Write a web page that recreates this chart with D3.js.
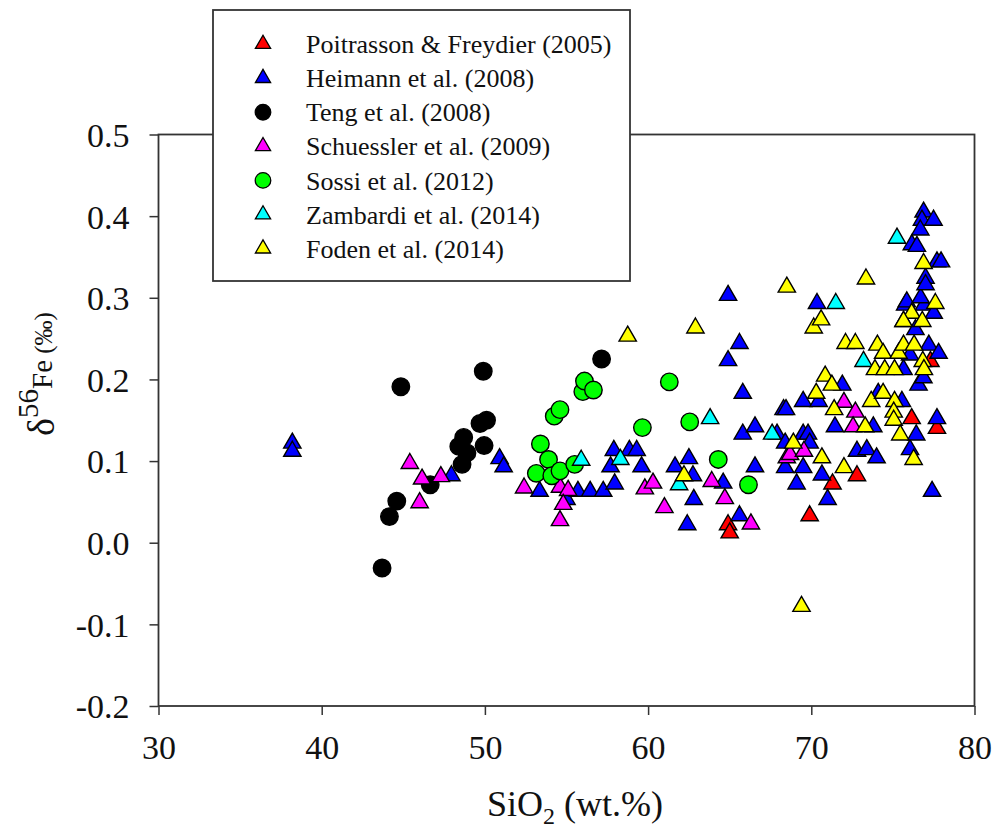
<!DOCTYPE html>
<html>
<head>
<meta charset="utf-8">
<script src="https://cdn.jsdelivr.net/npm/d3@7"></script>
<style>
  html, body { margin: 0; padding: 0; background: #fff; }
  svg { display: block; font-family: "Liberation Serif", "Times New Roman", serif; }
</style>
</head>
<body>
<svg id="chart" width="995" height="839"></svg>
<script>
// δ56Fe vs SiO2 compilation, one array of [SiO2 wt.%, δ56Fe ‰] pairs per study
const poitrasson = [[64.9,0.022],[65.0,0.012],[69.9,0.033],[71.3,0.072],[72.8,0.082],[76.15,0.152],[77.7,0.140],[77.3,0.222]];
const heimann = [
  [38.2,0.122],[38.2,0.112],[47.95,0.082],[50.9,0.103],[51.15,0.093],
  [53.35,0.063],[55.0,0.053],[55.7,0.063],[56.45,0.063],[57.25,0.063],[57.95,0.072],[57.7,0.093],[57.9,0.113],[58.85,0.113],[59.3,0.113],[59.6,0.093],
  [61.65,0.093],[62.5,0.103],[62.75,0.082],[62.8,0.053],[62.4,0.022],[64.6,0.073],
  [64.9,0.303],[64.9,0.223],[65.6,0.244],[65.8,0.183],[65.8,0.133],[66.55,0.142],[66.55,0.093],[65.6,0.033],
  [67.9,0.133],[68.3,0.163],[68.45,0.163],[68.4,0.122],[68.4,0.092],[69.5,0.173],[69.5,0.133],[69.8,0.133],[69.9,0.122],[69.5,0.092],[69.1,0.072],
  [70.35,0.293],[70.45,0.173],[70.65,0.083],[71.0,0.053],[71.45,0.142],[71.9,0.193],[72.8,0.112],[73.4,0.114],[73.8,0.142],[74.0,0.104],[74.1,0.183],
  [75.55,0.173],[75.65,0.212],[75.65,0.271],[75.75,0.291],[75.85,0.295],[76.05,0.230],[76.05,0.114],[76.43,0.132],[76.38,0.261],[76.57,0.193],[76.87,0.202],
  [76.9,0.291],[76.7,0.300],[77.0,0.324],[77.0,0.316],[77.2,0.242],[77.5,0.281],[77.8,0.232],[77.7,0.152],[77.4,0.063],
  [76.88,0.405],[76.78,0.395],[77.49,0.395],[76.68,0.383],[76.16,0.365],[76.47,0.363],[77.7,0.344],[77.95,0.344]
];
const teng = [[43.7,-0.031],[44.15,0.032],[44.6,0.051],[44.85,0.191],[46.65,0.071],[48.6,0.096],[48.9,0.110],[48.4,0.118],[48.7,0.129],[49.7,0.146],[50.1,0.150],[49.9,0.210],[49.95,0.119],[57.15,0.225]];
const schuessler = [[45.4,0.097],[46.0,0.049],[46.15,0.078],[47.3,0.081],[52.4,0.067],[54.6,0.068],[55.1,0.064],[54.8,0.047],[54.6,0.027],[59.8,0.066],[60.3,0.073],[61.0,0.043],[63.9,0.075],[64.7,0.054],[66.3,0.023],[68.5,0.104],[68.7,0.108],[69.55,0.112],[72.0,0.172],[72.7,0.160],[72.56,0.142]];
const sossi = [[53.15,0.085],[53.4,0.121],[53.9,0.102],[54.1,0.082],[54.6,0.088],[55.5,0.096],[54.25,0.155],[54.6,0.163],[56.0,0.185],[56.1,0.198],[56.65,0.187],[59.65,0.141],[61.3,0.197],[62.55,0.148],[64.3,0.102],[66.15,0.071]];
const zambardi = [[55.9,0.101],[58.3,0.102],[61.9,0.071],[63.8,0.152],[67.6,0.133],[71.5,0.293],[73.2,0.222],[75.25,0.373]];
const foden = [
  [58.75,0.253],[62.9,0.263],[62.2,0.082],[68.5,0.313],[68.9,0.122],[69.4,-0.078],[70.15,0.263],[70.6,0.273],[70.3,0.183],[70.85,0.204],[71.26,0.193],[71.4,0.163],
  [70.65,0.104],[72.0,0.092],[73.3,0.142],[73.35,0.323],[72.1,0.244],[72.7,0.244],[73.67,0.173],[74.05,0.242],[73.9,0.212],[74.4,0.232],[74.5,0.212],[74.4,0.183],
  [75.1,0.212],[75.35,0.232],[75.65,0.242],[75.1,0.173],[75.05,0.160],[75.05,0.150],[75.45,0.132],[76.15,0.281],[75.65,0.271],[76.8,0.271],[76.3,0.242],
  [76.88,0.342],[76.83,0.222],[76.9,0.212],[77.6,0.293],[76.27,0.102]
];

// Legend entries, drawn in this order
const seriesNames = ["Poitrasson & Freydier (2005)","Heimann et al. (2008)","Teng et al. (2008)","Schuessler et al. (2009)","Sossi et al. (2012)","Zambardi et al. (2014)","Foden et al. (2014)"];
const seriesData = [poitrasson, heimann, teng, schuessler, sossi, zambardi, foden];
const seriesColors = ["#ff0000","#0000ff","#000000","#ff00ff","#00ff00","#00ffff","#ffff00"];
const seriesShapes = ["triangle","triangle","circle","triangle","circle","triangle","triangle"];

const xTicks = [30,40,50,60,70,80];
const yTicks = [-0.2,-0.1,0.0,0.1,0.2,0.3,0.4,0.5];

const svg = d3.select("#chart");
const plotLeft = 158.5, plotRight = 974.5, plotTop = 134.5, plotBottom = 706;

const x = d3.scaleLinear().domain([30,80]).range([plotLeft,plotRight]);
const y = d3.scaleLinear().domain([-0.2,0.5]).range([plotBottom,plotTop]);

const symbolFor = (shape, big) => d3.symbol()
  .type(shape === "circle" ? d3.symbolCircle : d3.symbolTriangle)
  .size(shape === "circle" ? (big ? 240 : 190) : (big ? 130 : 100))();

// plot frame
svg.append("rect")
  .attr("x", plotLeft).attr("y", plotTop)
  .attr("width", plotRight-plotLeft).attr("height", plotBottom-plotTop)
  .attr("fill", "none").attr("stroke", "#333").attr("stroke-width", 1.8);

// axes (plain hyphen for negative values)
const tickFont = 34;
const xAxis = svg.append("g").attr("transform", `translate(0,${plotBottom})`)
  .call(d3.axisBottom(x).tickValues(xTicks).tickFormat(d => String(d)).tickSize(9).tickSizeOuter(0));
const yAxis = svg.append("g").attr("transform", `translate(${plotLeft},0)`)
  .call(d3.axisLeft(y).tickValues(yTicks).tickFormat(d => d.toFixed(1)).tickSize(9).tickSizeOuter(0));
[xAxis, yAxis].forEach(g => {
  g.select(".domain").remove();
  g.selectAll("line").attr("stroke", "#333").attr("stroke-width", 1.5);
  g.selectAll("text").attr("fill", "#111").style("font-size", tickFont + "px")
    .style("font-family", '"Liberation Serif", "Times New Roman", serif');
});
xAxis.selectAll("text").attr("dy", 0).attr("y", 53);
yAxis.selectAll("text").attr("x", -29).attr("dy", "0.35em");

// points
seriesData.forEach((pts, i) => {
  svg.append("g").selectAll("path").data(pts).join("path")
    .attr("d", symbolFor(seriesShapes[i], true))
    .attr("transform", d => `translate(${x(d[0])},${y(d[1])})`)
    .attr("fill", seriesColors[i])
    .attr("stroke", "#000").attr("stroke-width", 1.4);
});

// legend
const legend = svg.append("g");
legend.append("rect").attr("x", 213).attr("y", 10).attr("width", 417).attr("height", 271)
  .attr("fill", "#fff").attr("stroke", "#333").attr("stroke-width", 1.8);
seriesNames.forEach((name, i) => {
  const ly = 44 + i * 34.1;
  legend.append("path")
    .attr("d", symbolFor(seriesShapes[i], false))
    .attr("transform", `translate(263,${ly})`)
    .attr("fill", seriesColors[i]).attr("stroke", "#000").attr("stroke-width", 1.3);
  legend.append("text").attr("x", 306).attr("y", ly).attr("dy", "0.35em")
    .style("font-size", "26px").attr("fill", "#111").text(name);
});

// axis titles
const xt = svg.append("text").attr("x", 575).attr("y", 816)
  .attr("text-anchor", "middle").style("font-size", "36px").attr("fill", "#111");
xt.append("tspan").text("SiO");
xt.append("tspan").attr("dy", 8).style("font-size", "24px").text("2");
xt.append("tspan").attr("dy", -8).text(" (wt.%)");

const yt = svg.append("text")
  .attr("transform", "translate(54,374) rotate(-90)")
  .attr("text-anchor", "middle").attr("fill", "#111").style("font-size", "38px");
yt.append("tspan").text("δ");
yt.append("tspan").attr("dy", -16).style("font-size", "29px").text("56");
yt.append("tspan").attr("dy", 14).style("font-size", "29px").text("Fe");
yt.append("tspan").style("font-size", "25px").text(" (‰)");
</script>
</body>
</html>
